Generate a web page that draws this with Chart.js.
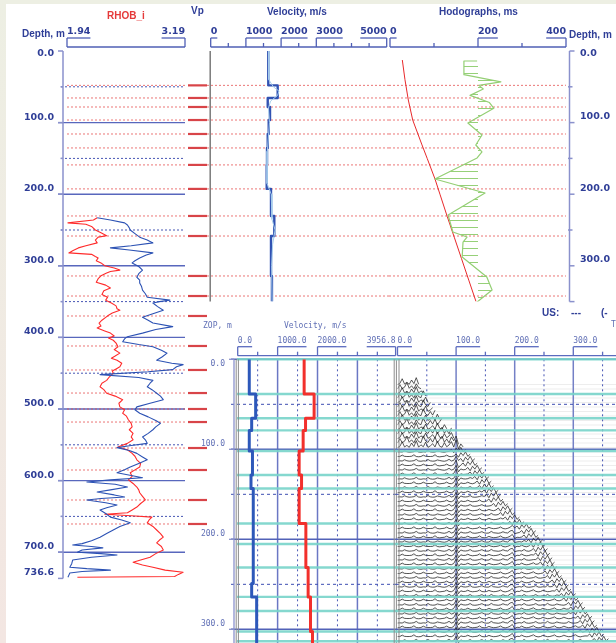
<!DOCTYPE html>
<html>
<head>
<meta charset="utf-8">
<title>Well log and VSP panels</title>
<script src="https://cdn.jsdelivr.net/npm/chart.js@4.4.1/dist/chart.umd.min.js"></script>
<style>
html, body { margin: 0; padding: 0; }
body { width: 616px; height: 643px; overflow: hidden; position: relative; background: linear-gradient(#edefe3, #f3e6e2); }
#sheet { position: absolute; left: 6px; top: 4px; width: 610px; height: 639px; background: #fff; }
canvas { position: absolute; }
.t { position: absolute; white-space: nowrap; line-height: 12px; }
.hd { font: bold 10px "Liberation Sans", Arial, sans-serif; color: #2f3e97; }
.lo { font: 8px "DejaVu Sans Mono", monospace; color: #6170b6; }
</style>
</head>
<body>
<div id="sheet"></div>
<canvas id="logTrack"></canvas>
<canvas id="vpTrack"></canvas>
<canvas id="hodoTrack"></canvas>
<canvas id="zopTrack"></canvas>
<canvas id="vspTrack"></canvas>
<div class="t hd" style="left:107px;top:10px;color:#e53a3a">RHOB_i</div>
<div class="t hd" style="left:191px;top:5px">Vp</div>
<div class="t hd" style="left:267px;top:6px">Velocity, m/s</div>
<div class="t hd" style="left:439px;top:6px">Hodographs, ms</div>
<div class="t hd" style="left:22px;top:28px">Depth, m</div>
<div class="t hd" style="left:569px;top:29px">Depth, m</div>
<div class="t hd" style="left:542px;top:307px">US:</div>
<div class="t hd" style="left:571px;top:307px">---</div>
<div class="t hd" style="left:601px;top:307px">(-</div>
<div class="t lo" style="left:611px;top:320px">T</div>
<div class="t lo" style="left:203px;top:321px">ZOP, m</div>
<div class="t lo" style="left:284px;top:321px">Velocity, m/s</div>
<script>
// ---- density track ----
const rhobDepth = [233, 236, 240, 242, 245, 250, 254, 258, 260, 264, 268, 272, 275, 279, 282, 284, 287, 289, 293, 296,
  300, 303, 306, 308, 310, 314, 318, 323, 327, 331, 335, 340, 344, 348, 352, 356, 360, 362, 366, 369,
  372, 376, 380, 384, 387, 391, 394, 398, 401, 404, 408, 413, 417, 422, 426, 429, 432, 436, 441, 444,
  447, 450, 455, 460, 464, 469, 473, 478, 482, 487, 492, 497, 501, 506, 510, 515, 520, 525, 529, 534,
  539, 543, 548, 553, 557, 562, 566, 571, 576, 581, 585, 589, 594, 599, 604, 609, 613, 617, 622, 627,
  632, 637, 641, 645, 647, 649, 651, 655, 659, 664, 669, 674, 679, 683, 687, 692, 697, 702, 707, 711,
  714, 718, 721, 725, 728, 731, 734, 735];
const rhobValue = [2.26, 2.22, 1.95, 2.14, 2.20, 2.24, 2.30, 2.36, 2.27, 2.24, 2.26, 2.14, 2.06, 2.00, 1.96, 2.20, 2.24, 2.27, 2.25, 2.30,
  2.34, 2.44, 2.50, 2.40, 2.36, 2.30, 2.27, 2.25, 2.35, 2.40, 2.33, 2.31, 2.37, 2.35, 2.41, 2.46, 2.47, 2.50, 2.42, 2.38,
  2.35, 2.31, 2.28, 2.30, 2.26, 2.34, 2.40, 2.44, 2.38, 2.43, 2.46, 2.48, 2.44, 2.50, 2.45, 2.41, 2.47, 2.52, 2.50, 2.46,
  2.42, 2.43, 2.39, 2.36, 2.31, 2.29, 2.33, 2.36, 2.45, 2.53, 2.49, 2.50, 2.55, 2.53, 2.57, 2.59, 2.62, 2.63, 2.60, 2.64,
  2.62, 2.64, 2.58, 2.48, 2.58, 2.63, 2.66, 2.68, 2.72, 2.71, 2.66, 2.61, 2.63, 2.59, 2.64, 2.68, 2.70, 2.71, 2.74, 2.77,
  2.72, 2.68, 2.63, 2.58, 2.34, 2.62, 2.84, 2.81, 2.79, 2.85, 2.89, 2.93, 2.96, 2.92, 2.89, 2.94, 2.96, 2.88, 2.82, 2.72,
  2.64, 2.74, 2.85, 2.98, 3.17, 3.12, 3.08, 2.05];
const blueLogDepth = [233, 236, 240, 243, 247, 250, 255, 260, 264, 268, 272, 275, 278, 282, 285, 289, 293, 296, 301, 306,
  311, 316, 320, 324, 329, 334, 339, 344, 348, 350, 352, 357, 362, 367, 372, 376, 380, 385, 389, 394,
  399, 402, 406, 410, 413, 418, 422, 427, 432, 436, 438, 441, 445, 448, 452, 456, 460, 464, 469, 473,
  478, 482, 487, 492, 497, 501, 506, 511, 516, 520, 525, 529, 534, 539, 543, 548, 551, 554, 558, 562,
  567, 571, 576, 581, 585, 589, 593, 596, 599, 602, 605, 609, 613, 616, 620, 623, 625, 627, 631, 634,
  638, 641, 646, 651, 655, 659, 664, 669, 674, 679, 684, 688, 690, 692, 694, 697, 700, 702, 704, 707,
  711, 716, 721, 723, 725, 727, 729, 732, 735];
const blueLogValue = [2.26, 2.40, 2.55, 2.58, 2.60, 2.61, 2.66, 2.71, 2.79, 2.85, 2.62, 2.40, 2.60, 2.85, 2.78, 2.71, 2.66, 2.63, 2.70, 2.74,
  2.70, 2.68, 2.71, 2.71, 2.73, 2.74, 2.77, 2.79, 3.03, 2.92, 2.85, 2.90, 2.96, 2.85, 2.74, 2.80, 2.85, 3.06, 2.88, 2.74,
  2.58, 2.55, 2.53, 2.70, 2.85, 2.94, 3.00, 2.95, 2.89, 3.05, 3.17, 3.10, 3.06, 2.80, 2.29, 2.70, 2.85, 2.82, 2.79, 2.84,
  2.89, 2.93, 2.96, 2.82, 2.68, 2.66, 2.71, 2.80, 2.88, 2.93, 2.88, 2.85, 2.80, 2.74, 2.77, 2.79, 2.62, 2.47, 2.60, 2.68,
  2.74, 2.79, 2.70, 2.61, 2.55, 2.47, 2.62, 2.74, 2.40, 2.15, 2.45, 2.58, 2.40, 2.26, 2.44, 2.55, 2.30, 2.15, 2.35, 2.47,
  2.36, 2.29, 2.35, 2.40, 2.52, 2.61, 2.50, 2.43, 2.36, 2.29, 2.20, 2.10, 2.00, 2.20, 2.32, 2.10, 2.05, 2.30, 2.47, 2.20,
  2.00, 1.99, 1.97, 2.15, 2.40, 2.10, 1.97, 1.96, 1.95];
const rhobRange = [1.94, 3.19];
const logDepthTicks = [0, 100, 200, 300, 400, 500, 600, 700, 736.6];
const logDepthMinor = [50, 150, 250, 350, 450, 550, 650];
const boundaryDepths = [48, 65.6, 78.2, 96.4, 115.9, 135.4, 159.1, 192.6, 230.4, 258.4, 314.2, 342.2,
  370.1, 412, 445.5, 477.7, 500, 518.2, 554.5, 585.2, 627.1, 660.6];

// ---- interval velocity (upper) ----
const vpLayerTop = [0, 48, 65.6, 78.2, 96.4, 115.9, 135.4, 159.1, 192.6, 230.4, 258.4, 314.2, 350];
const vpLayerVel = [1636, 1903, 1620, 1685, 1648, 1620, 1600, 1591, 1713, 1807, 1713, 1740, 1740];
const vpSmoothDepth = [0, 40, 50, 56, 62, 70, 80, 100, 140, 185, 200, 235, 250, 270, 300, 350];
const vpSmoothVel = [1650, 1650, 1780, 1940, 1900, 1700, 1640, 1670, 1610, 1600, 1720, 1740, 1830, 1760, 1730, 1745];
const vpTicks = [0, 1000, 2000, 3000, 5000];
const vpMinor = [500, 1500, 2500, 3500, 4000, 4500];

// ---- hodographs ----
const hodoDepth = [12.6, 40, 68.4, 96.4, 130, 150, 178.8, 200, 231.4, 260, 290, 320, 350];
const hodoTime = [28, 34, 41.6, 51.6, 72, 84.5, 102.3, 113.5, 130.2, 146, 162.5, 179, 195.5];
const residDepth = [14, 14, 33, 43, 48, 53, 62, 72, 80, 100.6, 117.3, 131.3, 141, 149.4, 178.8, 198.3, 229, 252.8, 259.8, 266.8, 287.7, 315.6, 333.8, 350.6];
const residTime = [198, 168, 168, 252, 202, 212, 182, 226, 236, 177, 209, 195, 209, 198, 102, 216, 132, 143, 175, 166, 164, 220, 232, 198];
const hodoTicks = [0, 200, 400];
const hodoMinor = [100, 300];
const sideDepthTicks = [0, 100, 200, 300];

// ---- ZOP velocity model ----
const zopLayerTop = [0, 38.6, 65.5, 79, 101.9, 128.5, 143.5, 182.4, 205.2, 231.3, 249, 264, 279.7, 302.5, 316];
const vsLayerVel = [290, 450, 350, 290, 370, 333, 390, 390, 390, 390, 350, 475, 475, 475, 475];
const vpZopVel = [1665, 1915, 1700, 1640, 1540, 1600, 1540, 1708, 1708, 1765, 1765, 1825, 1825, 1875, 1875];
const zopLayerLines = [0, 38.6, 65.5, 79, 101.9, 128.5, 143.5, 182.4, 205.2, 231.3, 264, 279.7, 302.5, 313.3];
const zopTicks = [0, 1000, 2000, 3956.8];
const zopTickLabels = ['0.0', '1000.0', '2000.0', '3956.8'];
const zopMinor = [500, 1500, 2500, 3000, 3500];
const zopDepthTicks = [0, 100, 200, 300];
const zopDepthMinor = [50, 150, 250];

// ---- VSP gather ----
const traceDepths = [28, 33, 38, 43, 48, 53, 58, 63, 68, 73, 78, 83, 88, 93, 98, 103, 108, 113, 118, 123,
  128, 133, 138, 143, 148, 153, 158, 163, 168, 173, 178, 183, 188, 193, 198, 203, 208, 213, 218, 223,
  228, 233, 238, 243, 248, 253, 258, 263, 268, 273, 278, 283, 288, 293, 298, 303, 308, 313];
const breakTimes = [38, 42, 46, 49, 53, 57, 62, 67, 73, 79, 85, 92, 99, 106, 112, 119, 126, 132, 138, 144,
  150, 157, 162, 167, 172, 177, 183, 190, 196, 203, 211, 219, 228, 236, 242, 248, 254, 258, 262, 266,
  270, 275, 279, 283, 288, 292, 298, 305, 311, 317, 322, 327, 332, 337, 342, 348, 355, 362];
// amplitudes every 4 ms, in metres of trace offset; even and odd traces use the A / B rows
const quietTraceA = [0, 0, 1.6, 0.2, 0, 0, 0.3, 1.9, 0, -0.3,
  0, 1.5, 0.3, 0, 0, 0.2, 2.0, 0, -0.4, 0,
  0.3, 1.6, 0, -0.2, 1.2, 6.0, -2.4, 0.8, 0, 0.2,
  1.5, 0.2, -0.3, 0, 0.3, 1.8, 0, -0.3, 0, 1.3,
  0.3, -0.2, 0, 0.6, 1.7, 0, -0.4, 0.2, 1.4, 3.4,
  -1.2, 0.3, 0, 1.6, 0.2, -0.3, 0, 0.9, 1.9, 0.2,
  -0.4, 0, 1.3, 0.5, -0.2, 0, 0.8, 1.8, 0, -0.3,
  0.2, 1.5, 0.4, -0.2, 0, 1.1, 1.9, 0.2, -0.4, 0.2,
  0.7, 1.6, 0, -0.3, 0.2, 1.4, 0.3, -0.2, 0, 1.0,
  1.8, 0.2, -0.3, 0];
const quietTraceB = [0, 0.2, 0, 1.4, 0.3, -0.2, 0, 0.4, 1.8, 0,
  -0.3, 0.2, 0, 1.7, 0.2, -0.2, 0, 1.2, 0.6, 0,
  -0.3, 0.4, 1.9, 0, 0.8, 5.2, -2.0, 1.2, 0.2, 0,
  0.4, 1.6, 0, -0.3, 0, 0.6, 1.5, 0.2, -0.2, 0,
  1.8, 0.3, 0, -0.3, 0.2, 1.4, 0.4, 0, 2.2, 3.0,
  -0.8, 0, 0.4, 0, 1.7, 0.1, -0.3, 0, 0.5, 1.6,
  0, -0.2, 0.3, 0, 1.8, 0.2, -0.3, 0, 1.2, 0.4,
  0, -0.2, 0, 1.6, 0.3, -0.2, 0, 0.4, 1.7, 0,
  -0.3, 0.2, 0, 1.5, 0.2, -0.2, 0, 1.1, 0.5, 0,
  -0.3, 0.4, 1.6, 0];
const loudTraceA = [0, 1.2, 6.4, 0.6, 2.4, 0.2, 5.0, 1.0, 7.6, 0.4,
  3.0, 0.8, 6.0, 0.2, 1.8, 4.2, 0.6, 7.0, 1.4, 0.3,
  5.4, 0.8, 2.8, 6.6, 0.5, 8.6, -1.8, 4.0, 0.6, 5.8];
const loudTraceB = [0, 4.8, 0.4, 2.0, 7.2, 0.8, 3.6, 0.2, 5.8, 1.6,
  0.4, 8.0, 2.2, 0.6, 5.0, 1.0, 6.4, 0.3, 3.8, 7.6,
  0.9, 4.4, 0.2, 6.8, 2.4, 7.8, -1.4, 3.4, 1.2, 6.2];
const tailBurst = [0.6, 2.8, -0.8, 4.2, 1.0, 5.2, 0.2, 2.6];
const vspTicks = [0, 100, 200, 300];
const vspMinor = [50, 150, 250, 350];

const NUM_FONT = 'bold 9.5px "DejaVu Sans"';
const LOW_FONT = '8px "DejaVu Sans Mono"';
const INK = '#2f3e97';
const LOW_INK = '#6170b6';
const AXIS = '#8a91cc';

const pts = (ys, xs) => ys.map((y, i) => ({ x: xs[i], y }));

function seg(ctx, x0, y0, x1, y1, color, width, dash) {
  ctx.beginPath();
  ctx.strokeStyle = color;
  ctx.lineWidth = width || 1;
  ctx.setLineDash(dash || []);
  ctx.moveTo(x0, y0);
  ctx.lineTo(x1, y1);
  ctx.stroke();
}

function label(ctx, s, x, y, font, color, align) {
  ctx.font = font;
  ctx.fillStyle = color;
  ctx.textAlign = align || 'left';
  ctx.textBaseline = 'middle';
  ctx.fillText(s, x, y);
}

// bracket style scale drawn above a track
function topScale(ctx, X, ticks, labels, minors, base, font, color, lineCol, endX) {
  const x0 = X(ticks[0]);
  const x1 = endX !== undefined ? endX : X(ticks[ticks.length - 1]);
  seg(ctx, x0, base, x1, base, lineCol, 1.3);
  ctx.font = font;
  ticks.forEach((v, i) => {
    const px = X(v);
    const w = ctx.measureText(labels[i]).width;
    const right = endX === undefined && i === ticks.length - 1;
    seg(ctx, px, base, px, base - 9, lineCol, 1.3);
    seg(ctx, px, base - 9, right ? px - w : px + w, base - 9, lineCol, 1.3);
    label(ctx, labels[i], px, base - 15, font, color, right ? 'right' : 'left');
  });
  minors.forEach(v => seg(ctx, X(v), base, X(v), base - 4, lineCol, 1.3));
}

function makeTrack(id, box, area, xr, yr, datasets, under, over, indexAxis) {
  const cv = document.getElementById(id);
  cv.width = box.w; cv.height = box.h;
  cv.style.left = box.x + 'px'; cv.style.top = box.y + 'px';
  cv.style.width = box.w + 'px'; cv.style.height = box.h + 'px';
  const paint = (chart, fn) => {
    if (!fn) return;
    const ctx = chart.ctx;
    ctx.save();
    ctx.translate(-box.x, -box.y);
    const X = v => chart.scales.x.getPixelForValue(v) + box.x;
    const Y = v => chart.scales.y.getPixelForValue(v) + box.y;
    fn(ctx, X, Y);
    ctx.restore();
  };
  return new Chart(cv, {
    type: 'line',
    data: { datasets },
    options: {
      responsive: false,
      animation: false,
      events: [],
      indexAxis: indexAxis || 'y',
      layout: { padding: { left: area.x0 - box.x, right: box.x + box.w - area.x1, top: area.y0 - box.y, bottom: box.y + box.h - area.y1 } },
      plugins: { legend: { display: false }, tooltip: { enabled: false } },
      elements: { point: { radius: 0 }, line: { borderJoinStyle: 'round', tension: 0 } },
      scales: {
        x: { type: 'linear', min: xr[0], max: xr[1], display: false },
        y: { type: 'linear', min: yr[0], max: yr[1], reverse: true, display: false }
      }
    },
    plugins: [{
      id: id + 'Decor',
      beforeDatasetsDraw: chart => paint(chart, under),
      afterDatasetsDraw: chart => paint(chart, over)
    }]
  });
}

// ---- left track: density logs ----
makeTrack('logTrack', { x: 0, y: 0, w: 212, h: 600 }, { x0: 67, x1: 185, y0: 51, y1: 578.4 },
  rhobRange, [0, 736.6],
  [
    { data: pts(blueLogDepth, blueLogValue), borderColor: '#2c52b4', borderWidth: 1.1 },
    { data: pts(rhobDepth, rhobValue), borderColor: '#ff2b2b', borderWidth: 1.1 }
  ],
  (ctx, X, Y) => {
    const right = X(rhobRange[1]);
    logDepthMinor.forEach(d => seg(ctx, 61, Y(d), right, Y(d), '#4756b4', 1, [2, 2]));
    logDepthTicks.slice(1, -1).forEach(d => seg(ctx, 58, Y(d), right, Y(d), '#5867bd', 1.4));
    boundaryDepths.forEach(d => {
      seg(ctx, X(rhobRange[0]), Y(d), right, Y(d), 'rgba(228,72,72,0.75)', 1, [2, 2]);
      seg(ctx, 188, Y(d), 207, Y(d), '#d84448', 2.2);
    });
  },
  (ctx, X, Y) => {
    const ax = 63;
    seg(ctx, ax, Y(0), ax, Y(736.6), AXIS, 1.5);
    logDepthTicks.forEach((d, i) => {
      seg(ctx, ax - 5, Y(d), ax, Y(d), AXIS, 1.5);
      label(ctx, d.toFixed(1), 54, Y(d) + (i === 0 ? 3 : -5.5), NUM_FONT, INK, 'right');
    });
    logDepthMinor.forEach(d => seg(ctx, ax - 2.5, Y(d), ax, Y(d), AXIS, 1.5));
    topScale(ctx, X, rhobRange, rhobRange.map(v => v.toFixed(2)), [], 47, NUM_FONT, INK, '#4f5fb5');
  });

// ---- interval velocity track ----
makeTrack('vpTrack', { x: 200, y: 0, w: 190, h: 310 }, { x0: 210.7, x1: 386.7, y0: 51, y1: 301.6 },
  [0, 5000], [0, 350],
  [
    { data: pts(vpSmoothDepth, vpSmoothVel), borderColor: '#a6cdec', borderWidth: 1 },
    { data: pts(vpLayerTop, vpLayerVel), borderColor: '#3152b2', borderWidth: 2.4, stepped: 'after' }
  ],
  (ctx, X, Y) => {
    seg(ctx, X(0) - 0.5, Y(0), X(0) - 0.5, Y(350), '#7a7a7a', 1.5);
    boundaryDepths.filter(d => d <= 350).forEach(d => seg(ctx, 207, Y(d), 389, Y(d), 'rgba(228,72,72,0.75)', 1, [2, 2]));
  },
  (ctx, X) => {
    topScale(ctx, X, vpTicks, vpTicks.map(String), vpMinor, 47, NUM_FONT, INK, '#4f5fb5');
  });

// ---- hodograph track ----
const hatchTile = document.createElement('canvas');
hatchTile.width = 4; hatchTile.height = 7;
const hatchCtx = hatchTile.getContext('2d');
hatchCtx.fillStyle = 'rgba(132,200,96,0.85)';
hatchCtx.fillRect(0, 3, 4, 1);
const hatch = hatchCtx.createPattern(hatchTile, 'repeat');

makeTrack('hodoTrack', { x: 386, y: 0, w: 230, h: 320 }, { x0: 390, x1: 566, y0: 51, y1: 301.6 },
  [0, 400], [0, 350],
  [
    { data: pts(residDepth, residTime), borderColor: '#94cf74', borderWidth: 1.2, backgroundColor: hatch, fill: { value: 200 } },
    { data: pts(hodoDepth, hodoTime), borderColor: '#e8292b', borderWidth: 1 }
  ],
  (ctx, X, Y) => {
    boundaryDepths.filter(d => d <= 350).forEach(d => seg(ctx, 389, Y(d), 566, Y(d), 'rgba(228,72,72,0.75)', 1, [2, 2]));
  },
  (ctx, X, Y) => {
    topScale(ctx, X, hodoTicks, hodoTicks.map(String), hodoMinor, 47, NUM_FONT, INK, '#4f5fb5');
    const ax = 569.5;
    seg(ctx, ax, Y(0), ax, Y(350), AXIS, 1.5);
    sideDepthTicks.forEach((d, i) => {
      seg(ctx, ax, Y(d), ax + 5, Y(d), AXIS, 1.5);
      label(ctx, d.toFixed(1), 580, Y(d) + (i === 0 ? 2.5 : -6), NUM_FONT, INK, 'left');
    });
    seg(ctx, ax, Y(350), ax + 5, Y(350), AXIS, 1.5);
    [50, 150, 250].forEach(d => seg(ctx, ax - 1.5, Y(d), ax + 3, Y(d), AXIS, 1.5));
  });

// ---- ZOP velocity model ----
function lowerGrid(ctx, X, Y, x0, x1) {
  zopDepthMinor.forEach(d => seg(ctx, x0, Y(d), x1, Y(d), '#3e4fb2', 1, [3, 3]));
  zopDepthTicks.forEach(d => seg(ctx, x0, Y(d), x1, Y(d), '#5262b8', 1.5));
}
function tealLines(ctx, Y, x0, x1) {
  zopLayerLines.forEach(d => seg(ctx, x0, Y(d), x1, Y(d), 'rgba(120,212,202,0.9)', 2.4));
}

makeTrack('zopTrack', { x: 190, y: 320, w: 208, h: 323 }, { x0: 237.7, x1: 395.6, y0: 359.3, y1: 643 },
  [0, 3956.8], [0, 315.2],
  [
    { data: pts(zopLayerTop, vsLayerVel), borderColor: '#2d58ba', borderWidth: 3, stepped: 'after' },
    { data: pts(zopLayerTop, vpZopVel), borderColor: '#f2302c', borderWidth: 3, stepped: 'after' }
  ],
  (ctx, X, Y) => {
    [500, 1500, 2500, 3500].forEach(v => seg(ctx, X(v), Y(0), X(v), 643, '#4d5bb8', 1, [2, 3]));
    [1000, 2000, 3000].forEach(v => seg(ctx, X(v), Y(0), X(v), 643, '#6a77c4', 1.5));
    lowerGrid(ctx, X, Y, 231, 396);
    tealLines(ctx, Y, 237, 396);
  },
  (ctx, X, Y) => {
    [236.2, 238.4, 394.2, 396.4].forEach(x => seg(ctx, x, Y(0), x, 643, '#8c8c8c', 1));
    topScale(ctx, X, zopTicks, zopTickLabels, zopMinor, 355.7, LOW_FONT, LOW_INK, '#5b6bbf');
    const ax = 234;
    seg(ctx, ax, Y(0), ax, 643, AXIS, 1.3);
    zopDepthTicks.forEach((d, i) => {
      seg(ctx, ax - 5, Y(d), ax, Y(d), AXIS, 1.3);
      label(ctx, d.toFixed(1), 225, Y(d) + (i === 0 ? 4.5 : -5.3), LOW_FONT, LOW_INK, 'right');
    });
  });

// ---- VSP gather ----
const traceSets = traceDepths.map((d, i) => {
  const loud = d <= 98;
  const src = loud ? (i % 2 ? loudTraceB : loudTraceA) : (i % 2 ? quietTraceB : quietTraceA);
  const last = Math.floor(breakTimes[i] / 4);
  const data = [];
  for (let k = 0; k <= last; k++) {
    const fromEnd = last - k;
    const a = (!loud && fromEnd < tailBurst.length) ? tailBurst[tailBurst.length - 1 - fromEnd] : src[k];
    data.push({ x: k * 4, y: d - a });
  }
  return { data, borderColor: '#222', borderWidth: 0.75 };
});

makeTrack('vspTrack', { x: 390, y: 320, w: 226, h: 323 }, { x0: 397.5, x1: 616, y0: 359.3, y1: 643 },
  [0, 372.9], [0, 315.2],
  traceSets,
  (ctx, X, Y) => {
    traceDepths.forEach(d => seg(ctx, X(0), Y(d), 616, Y(d), 'rgba(0,0,0,0.07)', 1));
    vspMinor.forEach(v => seg(ctx, X(v), Y(0), X(v), 643, '#4453b4', 1, [2, 3]));
    vspTicks.slice(1).forEach(v => seg(ctx, X(v), Y(0), X(v), 643, '#7480c6', 1.5));
    lowerGrid(ctx, X, Y, 396, 616);
  },
  (ctx, X, Y) => {
    tealLines(ctx, Y, 396, 616);
    seg(ctx, 399, Y(0), 399, 643, '#8c8c8c', 1);
    topScale(ctx, X, vspTicks, vspTicks.map(v => v.toFixed(1)), vspMinor, 355.7, LOW_FONT, LOW_INK, '#5b6bbf', 616);
  }, 'x');
</script>
</body>
</html>
